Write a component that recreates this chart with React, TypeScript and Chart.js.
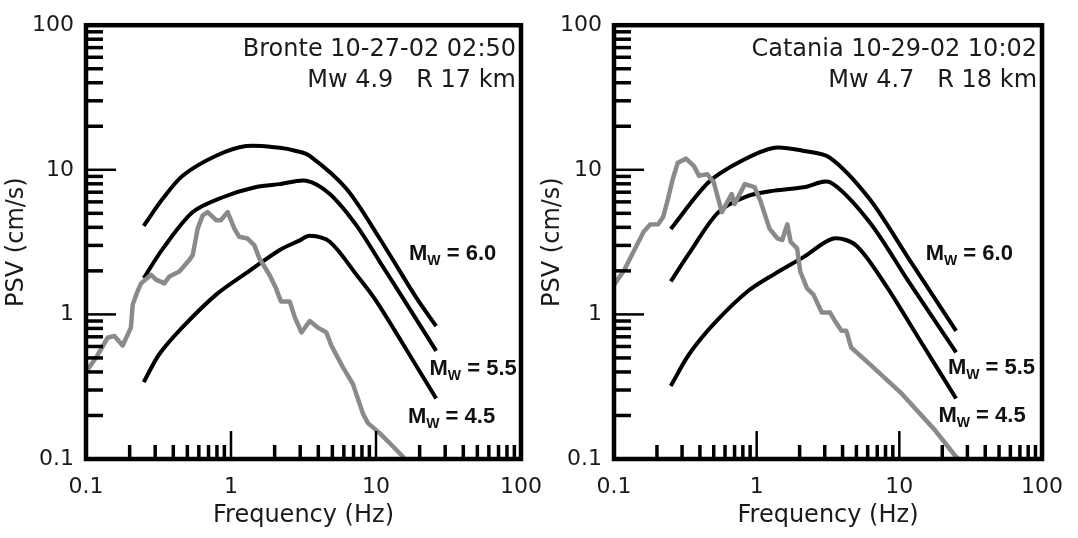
import React, { useEffect, useRef } from "react";
import { Chart, registerables } from "chart.js";

Chart.register(...registerables);

// ---------- axis ticks ----------
const labelTicks = [0.1, 1, 10, 100];
const majorTicks = [1, 10];
const minorTicks = [
  0.2, 0.3, 0.4, 0.5, 0.6, 0.7, 0.8, 0.9,
  2, 3, 4, 5, 6, 7, 8, 9,
  20, 30, 40, 50, 60, 70, 80, 90,
];

// ---------- Bronte (left panel) ----------
const bronteTitle = ["Bronte 10-27-02 02:50", "Mw 4.9   R 17 km"];
const bronteFreq = [
  0.1, 0.12, 0.141, 0.157, 0.179, 0.204, 0.21, 0.227, 0.24, 0.281, 0.304, 0.347, 0.376, 0.44,
  0.516, 0.545, 0.589, 0.638, 0.69, 0.79, 0.85, 0.948, 1.055, 1.14, 1.3, 1.45, 1.57, 1.84,
  2.04, 2.21, 2.54, 2.76, 3.06, 3.49, 3.98, 4.55, 4.92, 5.92, 6.93, 8.13, 8.8, 10.6, 13.1,
  15.3, 16.0,
];
const brontePsv = [
  0.4, 0.52, 0.69, 0.71, 0.61, 0.81, 1.17, 1.45, 1.64, 1.88, 1.74, 1.64, 1.83, 1.98,
  2.38, 2.58, 3.92, 4.84, 5.1, 4.48, 4.48, 5.1, 3.92, 3.44, 3.35, 3.0, 2.44, 1.88,
  1.52, 1.23, 1.23, 0.95, 0.75, 0.9, 0.81, 0.75, 0.61, 0.43, 0.33, 0.206, 0.177, 0.151, 0.122,
  0.104, 0.098,
];
const bronteMw60Freq = [0.25, 0.338, 0.464, 0.789, 1.27, 2.17, 2.81, 3.49, 6.25, 10.6, 19, 26];
const bronteMw60Psv = [4.1, 6.3, 9.1, 12.5, 14.6, 14.2, 13.5, 12.5, 7.4, 3.35, 1.3, 0.83];
const bronteMw55Freq = [0.25, 0.34, 0.545, 0.877, 1.49, 2.17, 3.31, 4.8, 7.33, 10.6, 15.3, 26];
const bronteMw55Psv = [1.78, 2.86, 5.1, 6.46, 7.6, 7.96, 8.4, 6.8, 4.13, 2.32, 1.3, 0.56];
const bronteMw45Freq = [0.25, 0.32, 0.46, 0.79, 1.34, 2.17, 2.96, 3.49, 4.8, 7.33, 10.07, 18, 26];
const bronteMw45Psv = [0.34, 0.53, 0.81, 1.37, 2.0, 2.79, 3.24, 3.5, 3.18, 1.88, 1.23, 0.48, 0.262];

// ---------- Catania (right panel) ----------
const cataniaTitle = ["Catania 10-29-02 10:02", "Mw 4.7   R 18 km"];
const cataniaFreq = [
  0.1, 0.118, 0.137, 0.161, 0.179, 0.204, 0.221, 0.239, 0.258, 0.28, 0.32, 0.364, 0.394, 0.45,
  0.5, 0.57, 0.668, 0.7, 0.826, 0.967, 1.07, 1.23, 1.4, 1.51, 1.64, 1.73, 1.92, 2.02, 2.25,
  2.5, 2.86, 3.27, 3.54, 3.93, 4.25, 4.6, 6.17, 10.4, 17.7, 24.3, 26,
];
const cataniaPsv = [
  1.6, 2.03, 2.71, 3.72, 4.18, 4.2, 4.71, 6.3, 8.6, 11.2, 11.95, 10.6, 9.1, 9.33,
  8.2, 5.1, 6.8, 5.8, 7.96, 7.6, 5.97, 3.92, 3.35, 3.27, 4.2, 3.18, 2.86, 1.98, 1.52,
  1.37, 1.03, 1.03, 0.9, 0.77, 0.77, 0.59, 0.455, 0.283, 0.159, 0.107, 0.1,
];
const cataniaMw60Freq = [0.25, 0.46, 0.78, 1.33, 2.14, 3.27, 6.17, 11.6, 25];
const cataniaMw60Psv = [3.9, 8.2, 11.5, 14.2, 13.5, 12.1, 6.3, 2.44, 0.77];
const cataniaMw55Freq = [0.25, 0.336, 0.54, 0.87, 1.33, 2.14, 3.27, 6.17, 11.6, 25];
const cataniaMw55Psv = [1.69, 2.64, 5.1, 6.6, 7.18, 7.57, 8.2, 4.36, 1.69, 0.546];
const cataniaMw45Freq = [0.25, 0.336, 0.51, 0.87, 1.33, 2.14, 3.45, 4.98, 8.0, 13.6, 25];
const cataniaMw45Psv = [0.32, 0.53, 0.876, 1.45, 1.9, 2.5, 3.35, 3.0, 1.6, 0.69, 0.262];

// magnitude labels, anchored at the left of "M" on its baseline
const mwLabels = ["6.0", "5.5", "4.5"];
const bronteLabelFreq = [16.9, 23.4, 16.6];
const bronteLabelPsv = [2.38, 0.378, 0.177];
const cataniaLabelFreq = [15.3, 21.9, 18.8];
const cataniaLabelPsv = [2.38, 0.388, 0.181];

const TXT = "#1a1a1a";
const FONT = "'DejaVu Sans', 'Liberation Sans', sans-serif";
const BOLD = "'Liberation Sans', Arial, sans-serif";

function toXY(fs: number[], vs: number[]) {
  return fs.map((f, i) => ({ x: f, y: vs[i] }));
}

const decorPlugin = {
  id: "decor",
  afterDraw(chart: any, _args: any, opts: any) {
    const { ctx, chartArea: a, scales } = chart;
    const xs = scales.x;
    const ys = scales.y;
    ctx.save();
    ctx.strokeStyle = "#000";
    ctx.lineCap = "butt";
    // minor ticks
    ctx.lineWidth = 3.5;
    for (const v of minorTicks) {
      const px = xs.getPixelForValue(v);
      ctx.beginPath();
      ctx.moveTo(px, a.bottom);
      ctx.lineTo(px, a.bottom - 14);
      ctx.stroke();
      const py = ys.getPixelForValue(v);
      ctx.beginPath();
      ctx.moveTo(a.left, py);
      ctx.lineTo(a.left + 17, py);
      ctx.stroke();
    }
    ctx.lineWidth = 2.5;
    for (const v of majorTicks) {
      const px = xs.getPixelForValue(v);
      ctx.beginPath();
      ctx.moveTo(px, a.bottom);
      ctx.lineTo(px, a.bottom - 28);
      ctx.stroke();
      const py = ys.getPixelForValue(v);
      ctx.beginPath();
      ctx.moveTo(a.left, py);
      ctx.lineTo(a.left + 30, py);
      ctx.stroke();
    }
    // frame
    ctx.lineWidth = 4.5;
    ctx.strokeRect(a.left, a.top, a.right - a.left, a.bottom - a.top);

    // panel title
    ctx.fillStyle = TXT;
    ctx.font = `24px ${FONT}`;
    ctx.textAlign = "right";
    ctx.textBaseline = "alphabetic";
    ctx.fillText(opts.title[0], a.right - 5, a.top + 30.5);
    ctx.fillText(opts.title[1], a.right - 5, a.top + 62);

    // magnitude labels
    ctx.textAlign = "left";
    ctx.fillStyle = "#111";
    for (let i = 0; i < mwLabels.length; i++) {
      const x0 = xs.getPixelForValue(opts.labelFreq[i]);
      const y0 = ys.getPixelForValue(opts.labelPsv[i]);
      ctx.font = `bold 22px ${BOLD}`;
      ctx.fillText("M", x0, y0);
      let w = ctx.measureText("M").width;
      ctx.font = `bold 14px ${BOLD}`;
      ctx.fillText("W", x0 + w, y0 + 5);
      w += ctx.measureText("W").width;
      ctx.font = `bold 22px ${BOLD}`;
      ctx.fillText(" = " + mwLabels[i], x0 + w, y0);
    }
    ctx.restore();
  },
};

type Panel = {
  title: string[];
  obs: { x: number; y: number }[];
  mw60: { x: number; y: number }[];
  mw55: { x: number; y: number }[];
  mw45: { x: number; y: number }[];
  labelFreq: number[];
  labelPsv: number[];
  yAxisWidth: number;
  padRight: number;
  yTitlePad: number;
};

function makeConfig(p: Panel): any {
  const theo = (label: string, data: any) => ({
    label,
    data,
    borderColor: "#000",
    borderWidth: 4,
    pointRadius: 0,
    tension: 0.3,
    borderJoinStyle: "round",
    fill: false,
  });
  return {
    type: "line",
    data: {
      datasets: [
        {
          label: "observed",
          data: p.obs,
          borderColor: "#8a8a8a",
          borderWidth: 4.5,
          pointRadius: 0,
          tension: 0,
          borderJoinStyle: "round",
          fill: false,
        },
        theo("Mw = 6.0", p.mw60),
        theo("Mw = 5.5", p.mw55),
        theo("Mw = 4.5", p.mw45),
      ],
    },
    options: {
      responsive: false,
      animation: false,
      events: [],
      layout: { padding: { left: 0, top: 21, right: p.padRight, bottom: 0 } },
      plugins: {
        legend: { display: false },
        tooltip: { enabled: false },
        decor: { title: p.title, labelFreq: p.labelFreq, labelPsv: p.labelPsv },
      },
      scales: {
        x: {
          type: "logarithmic",
          position: "bottom",
          min: 0.1,
          max: 100,
          afterBuildTicks: (s: any) => {
            s.ticks = labelTicks.map((v) => ({ value: v }));
          },
          afterFit: (s: any) => {
            s.height = 79;
          },
          grid: { display: false, drawTicks: false },
          border: { display: false },
          ticks: {
            autoSkip: false,
            maxRotation: 0,
            padding: 15,
            color: TXT,
            font: { family: FONT, size: 22 },
            callback: (v: any) => String(v),
          },
          title: {
            display: true,
            text: "Frequency (Hz)",
            color: TXT,
            font: { family: FONT, size: 24 },
            padding: { top: 0, bottom: 7.6 },
          },
        },
        y: {
          type: "logarithmic",
          position: "left",
          min: 0.1,
          max: 100,
          afterBuildTicks: (s: any) => {
            s.ticks = labelTicks.map((v) => ({ value: v }));
          },
          afterFit: (s: any) => {
            s.width = p.yAxisWidth;
          },
          grid: { display: false, drawTicks: false },
          border: { display: false },
          ticks: {
            autoSkip: false,
            padding: 12,
            color: TXT,
            font: { family: FONT, size: 22 },
            callback: (v: any) => String(v),
          },
          title: {
            display: true,
            text: "PSV (cm/s)",
            color: TXT,
            font: { family: FONT, size: 24 },
            padding: { top: p.yTitlePad, bottom: 0 },
          },
        },
      },
    },
    plugins: [decorPlugin],
  };
}

const leftPanel: Panel = {
  title: bronteTitle,
  obs: toXY(bronteFreq, brontePsv),
  mw60: toXY(bronteMw60Freq, bronteMw60Psv),
  mw55: toXY(bronteMw55Freq, bronteMw55Psv),
  mw45: toXY(bronteMw45Freq, bronteMw45Psv),
  labelFreq: bronteLabelFreq,
  labelPsv: bronteLabelPsv,
  yAxisWidth: 86,
  padRight: 39,
  yTitlePad: 2,
};

const rightPanel: Panel = {
  title: cataniaTitle,
  obs: toXY(cataniaFreq, cataniaPsv),
  mw60: toXY(cataniaMw60Freq, cataniaMw60Psv),
  mw55: toXY(cataniaMw55Freq, cataniaMw55Psv),
  mw45: toXY(cataniaMw45Freq, cataniaMw45Psv),
  labelFreq: cataniaLabelFreq,
  labelPsv: cataniaLabelPsv,
  yAxisWidth: 76,
  padRight: 27,
  yTitlePad: 0,
};

export default function App() {
  const leftRef = useRef<HTMLCanvasElement>(null);
  const rightRef = useRef<HTMLCanvasElement>(null);
  useEffect(() => {
    const c1 = new Chart(leftRef.current as HTMLCanvasElement, makeConfig(leftPanel));
    const c2 = new Chart(rightRef.current as HTMLCanvasElement, makeConfig(rightPanel));
    return () => {
      c1.destroy();
      c2.destroy();
    };
  }, []);
  return (
    <div
      style={{
        position: "absolute",
        left: 0,
        top: 0,
        width: 1078,
        height: 538,
        background: "#fff",
        overflow: "hidden",
      }}
    >
      <canvas
        ref={leftRef}
        width={560}
        height={538}
        style={{ position: "absolute", left: 0, top: 0, width: 560, height: 538 }}
      />
      <canvas
        ref={rightRef}
        width={540}
        height={538}
        style={{ position: "absolute", left: 538, top: 0, width: 540, height: 538 }}
      />
    </div>
  );
}
